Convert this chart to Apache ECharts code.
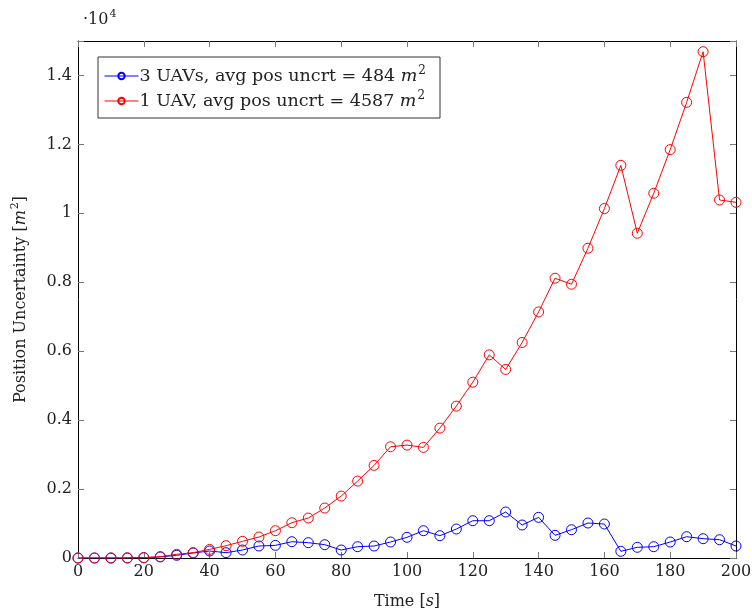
<!DOCTYPE html>
<html>
<head>
<meta charset="utf-8">
<script src="https://cdn.jsdelivr.net/npm/echarts@6/dist/echarts.min.js"></script>
<style>
  html, body { margin: 0; padding: 0; background: #fff; }
  #main { width: 752px; height: 616px; }
</style>
</head>
<body>
<div id="main"></div>
<script type="text/javascript">
    // 数据
    var times = [0, 5, 10, 15, 20, 25, 30, 35, 40, 45, 50, 55, 60, 65, 70, 75, 80, 85, 90, 95,
                 100, 105, 110, 115, 120, 125, 130, 135, 140, 145, 150, 155, 160, 165, 170, 175, 180, 185, 190, 195, 200];
    var uav3 = [0, 0, 0, 0, 10, 30, 78, 145, 203, 155, 232, 348, 367, 473, 444, 386, 232, 328, 348, 464,
                600, 792, 647, 841, 1082, 1082, 1334, 957, 1180, 657, 821, 1015, 986, 194, 310, 328, 464, 618, 560, 531, 348];
    var uav1 = [0, 0, 0, 5, 10, 40, 107, 155, 250, 357, 484, 609, 792, 1024, 1160, 1450, 1797, 2232, 2687, 3227,
                3276, 3209, 3769, 4407, 5102, 5894, 5470, 6253, 7140, 8117, 7943, 8987, 10138, 11393, 9422, 10582, 11848, 13220, 14690, 10388, 10320];
    var xTicks = [0, 20, 40, 60, 80, 100, 120, 140, 160, 180, 200];
    var yTicks = ['0', '0.2', '0.4', '0.6', '0.8', '1', '1.2', '1.4'];

    function pairs(ys) {
        var out = [];
        for (var i = 0; i < times.length; i++) out.push([times[i], ys[i]]);
        return out;
    }

    var font = 'DejaVu Serif';
    var rich = {
        n: { fontFamily: font, fontSize: 16, fontWeight: 'normal', color: '#222' },
        i: { fontFamily: font, fontSize: 16, fontWeight: 'normal', fontStyle: 'italic', color: '#222' },
        s: { fontFamily: font, fontSize: 11, fontWeight: 'normal', color: '#222', verticalAlign: 'top', lineHeight: 22, padding: [0, 0, 0, 1] }
    };
    // 图例文字稍大一些
    var legendRich = {
        n: { fontFamily: font, fontSize: 17.5, color: '#222' },
        i: { fontFamily: font, fontSize: 17.5, fontStyle: 'italic', color: '#222' },
        s: { fontFamily: font, fontSize: 12, color: '#222', verticalAlign: 'top', lineHeight: 22, padding: [0, 0, 0, 1] }
    };

    var myChart = echarts.init(document.getElementById('main'));

    var tickStyle = { show: true, inside: true, length: 6, lineStyle: { color: '#777', width: 1 } };
    var lineStyle = { color: '#000', width: 1 };

    var option = {
        animation: false,
        backgroundColor: '#fff',
        title: {
            text: '{n|\u00b710}{s|4}',
            left: 78, top: 4,
            textStyle: { rich: rich }
        },
        grid: { left: 78, right: 16, top: 41, bottom: 58, outerBoundsMode: 'none', containLabel: false },
        legend: {
            orient: 'vertical',
            left: 98, top: 57,
            backgroundColor: '#fff',
            borderColor: '#333', borderWidth: 1, borderRadius: 0,
            padding: [8, 14, 8, 6],
            itemGap: 5,
            itemWidth: 34, itemHeight: 8,
            lineStyle: { width: 1 },
            data: ['uav3', 'uav1'],
            formatter: function (name) {
                if (name === 'uav3') return '{n|3 UAVs, avg pos uncrt = 484 }{i|m}{s|2}';
                return '{n|1 UAV, avg pos uncrt = 4587 }{i|m}{s|2}';
            },
            textStyle: { rich: legendRich, padding: [0, 0, 0, -4] }
        },
        xAxis: [{
            type: 'value', min: 0, max: 200, interval: 20,
            name: '{n|Time [}{i|s}{n|]}', nameLocation: 'middle', nameGap: 36,
            nameTextStyle: { rich: rich },
            axisLine: { show: true, onZero: false, lineStyle: lineStyle },
            axisTick: tickStyle,
            splitLine: { show: false },
            axisLabel: { fontFamily: font, fontSize: 16, color: '#222', margin: 6,
                formatter: function (v) { return xTicks.indexOf(v) >= 0 ? String(v) : ''; } }
        }, {
            type: 'value', min: 0, max: 200, interval: 20, position: 'top',
            axisLine: { show: true, onZero: false, lineStyle: lineStyle },
            axisTick: tickStyle, axisLabel: { show: false }, splitLine: { show: false }
        }],
        yAxis: [{
            type: 'value', min: 0, max: 15000, interval: 2000,
            name: '{n|Position Uncertainty [}{i|m}{s|2}{n|]}', nameLocation: 'middle', nameGap: 46, nameRotate: 90,
            nameTextStyle: { rich: rich },
            axisLine: { show: true, onZero: false, lineStyle: lineStyle },
            axisTick: tickStyle,
            splitLine: { show: false },
            axisLabel: { fontFamily: font, fontSize: 16, color: '#222', margin: 6,
                formatter: function (v) { var k = v / 2000; return (k === Math.round(k) && k < yTicks.length) ? yTicks[k] : ''; } }
        }, {
            type: 'value', min: 0, max: 15000, interval: 2000, position: 'right',
            axisLine: { show: true, onZero: false, lineStyle: lineStyle },
            axisTick: tickStyle, axisLabel: { show: false }, splitLine: { show: false }
        }],
        series: [{
            name: 'uav3', type: 'line', data: pairs(uav3),
            symbol: 'circle', symbolSize: 10,
            itemStyle: { color: 'rgba(255,255,255,0)', borderColor: '#0000ff', borderWidth: 1 },
            lineStyle: { color: '#0000ff', width: 1 },
            color: '#0000ff'
        }, {
            name: 'uav1', type: 'line', data: pairs(uav1),
            symbol: 'circle', symbolSize: 10,
            itemStyle: { color: 'rgba(255,255,255,0)', borderColor: '#ff0000', borderWidth: 1 },
            lineStyle: { color: '#ff0000', width: 1 },
            color: '#ff0000'
        }]
    };

    myChart.setOption(option);
</script>
</body>
</html>
